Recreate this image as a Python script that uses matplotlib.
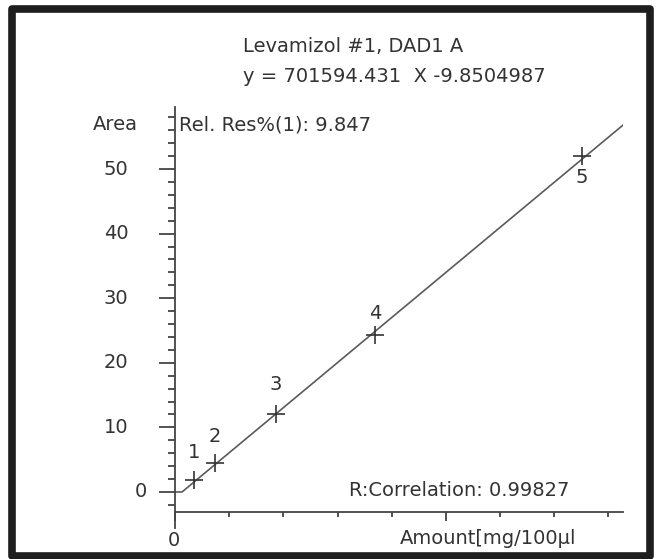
import matplotlib
matplotlib.use("Agg")
import matplotlib.pyplot as plt
from matplotlib.patches import Rectangle
import matplotlib.transforms as mtransforms

plt.rcParams['font.family'] = ['DejaVu Sans']

# Data
point_ids = ["1", "2", "3", "4", "5"]
amount = [0.35, 0.74, 1.86, 3.70, 7.51]
area = [1.9, 4.5, 12.1, 24.3, 52.0]
fit_x = [0.0, 0.13, 8.27]
fit_y = [0.0, 0.0, 56.8]
y_major = [0, 10, 20, 30, 40, 50]
y_labels = ["0", "10", "20", "30", "40", "50"]
y_minor = list(range(-2, 60, 2))
x_major = [0, 5]
x_minor = [1, 2, 3, 4, 6, 7, 8]
title_lines = ["Levamizol #1, DAD1 A", "y = 701594.431  X -9.8504987"]
rel_res = "Rel. Res%(1): 9.847"
corr = "R:Correlation: 0.99827"
x_title = "Amount[mg/100µl"
y_title = "Area"

W, H = 657, 559
fig = plt.figure(figsize=(W / 100, H / 100), dpi=100)
fig.patch.set_facecolor("white")

def fx(px):
    return px / W

def fy(py):
    return 1 - py / H

FS = 14
tc = "#333333"

# outer frame
fig.patches.append(Rectangle((fx(12), fy(556)), fx(650) - fx(12), fy(9) - fy(556),
                             transform=fig.transFigure, fill=False,
                             edgecolor="#1e1e1e", linewidth=5.5, joinstyle="round"))

ax = fig.add_axes([fx(175), fy(512), fx(623) - fx(175), fy(107) - fy(512)])
ax.set_xlim(0, 8.27)
ax.set_ylim(-3.1, 59.6)
for s in ["top", "right"]:
    ax.spines[s].set_visible(False)
for s in ["left", "bottom"]:
    ax.spines[s].set_color("#444444")
    ax.spines[s].set_linewidth(1.3)
ax.spines["left"].set_bounds(-5.5, 59.6)

ax.plot(fit_x, fit_y, color="#5a5a5a", lw=1.2, zorder=2)
ax.plot(amount, area, linestyle="none", marker="+", markersize=13,
        markeredgewidth=1.2, color="#333333", zorder=3)
label_offsets_px = [27, 26, 29, 22, -21]
for xv, yv, lab, off in zip(amount, area, point_ids, label_offsets_px):
    ax.annotate(lab, (xv, yv), xytext=(0, off * 0.72), textcoords="offset points",
                ha="center", va="center", fontsize=FS, color=tc)

ax.set_yticks(y_major)
ax.set_yticks(y_minor, minor=True)
ax.set_yticklabels([])
ax.set_xticks(x_major)
ax.set_xticks(x_minor, minor=True)
ax.set_xticklabels([])
ax.tick_params(axis="y", which="major", direction="out", length=11.5, width=1.3, color="#444444")
ax.tick_params(axis="y", which="minor", direction="out", length=5, width=1.3, color="#444444")
ax.tick_params(axis="x", which="major", direction="out", length=6.5, width=1.3, color="#444444")
ax.tick_params(axis="x", which="minor", direction="out", length=3.6, width=1.3, color="#444444")

# y tick labels
trans = mtransforms.blended_transform_factory(fig.transFigure, ax.transData)
for v, lab in zip(y_major, y_labels):
    xp = 141 if v == 0 else 116
    ax.text(fx(xp), v, lab, transform=trans, ha="center", va="center",
            fontsize=FS, color=tc)

# x tick label
fig.text(fx(174), fy(541), "0", ha="center", va="center", fontsize=FS, color=tc)

fig.text(fx(93), fy(125), y_title, ha="left", va="center", fontsize=FS, color=tc)
fig.text(fx(179), fy(125), rel_res, ha="left", va="center", fontsize=FS, color=tc)
fig.text(fx(243), fy(47), title_lines[0], ha="left", va="center", fontsize=FS, color=tc)
fig.text(fx(243), fy(77), title_lines[1], ha="left", va="center", fontsize=FS, color=tc)
fig.text(fx(349), fy(491), corr, ha="left", va="center", fontsize=FS, color=tc)
fig.text(fx(400), fy(538), x_title, ha="left", va="center", fontsize=FS, color=tc)

fig.savefig("out.png", dpi=100)
